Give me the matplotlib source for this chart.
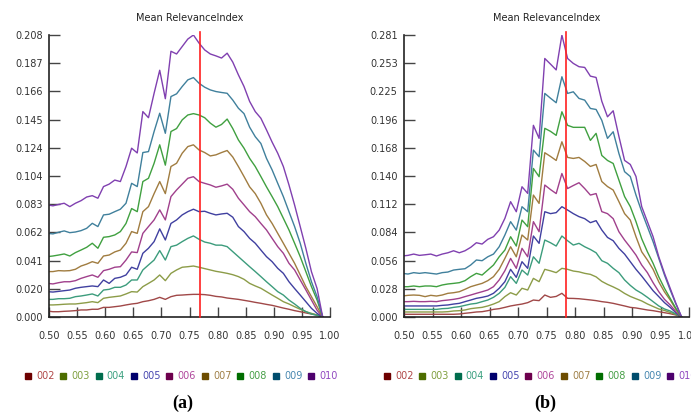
import numpy as np
import matplotlib
matplotlib.use("Agg")
import matplotlib.pyplot as plt
from matplotlib.lines import Line2D

# sample positions (same grid for both panels)
x_vals = np.round(0.497 + 0.01 * np.arange(50), 3)

series_names = ["002", "003", "004", "005", "006", "007", "008", "009", "010"]

# ---- panel (a) ----
a_002 = [0.0044, 0.0039, 0.0039, 0.0042, 0.0044, 0.0047, 0.0052, 0.0052, 0.0057, 0.0057,
         0.0071, 0.0071, 0.0076, 0.0081, 0.0089, 0.0096, 0.0101, 0.0113, 0.0120, 0.0130,
         0.0145, 0.0130, 0.0150, 0.0160, 0.0162, 0.0165, 0.0167, 0.0167, 0.0165, 0.0160,
         0.0152, 0.0148, 0.0140, 0.0135, 0.0130, 0.0123, 0.0116, 0.0108, 0.0101, 0.0093,
         0.0086, 0.0076, 0.0066, 0.0057, 0.0047, 0.0039, 0.0030, 0.0022, 0.0015, 0.0]
a_003 = [0.0089, 0.0089, 0.0091, 0.0094, 0.0096, 0.0096, 0.0101, 0.0106, 0.0113, 0.0106,
         0.0138, 0.0145, 0.0150, 0.0155, 0.0170, 0.0187, 0.0184, 0.0224, 0.0248, 0.0273,
         0.0310, 0.0268, 0.0322, 0.0347, 0.0367, 0.0371, 0.0376, 0.0367, 0.0357, 0.0347,
         0.0337, 0.0330, 0.0322, 0.0312, 0.0298, 0.0278, 0.0248, 0.0229, 0.0212, 0.0187,
         0.0162, 0.0138, 0.0113, 0.0096, 0.0076, 0.0057, 0.0039, 0.0027, 0.0015, 0.0]
a_004 = [0.0130, 0.0130, 0.0135, 0.0135, 0.0138, 0.0150, 0.0155, 0.0162, 0.0170, 0.0155,
         0.0199, 0.0204, 0.0219, 0.0219, 0.0236, 0.0273, 0.0273, 0.0347, 0.0384, 0.0420,
         0.0490, 0.0420, 0.0519, 0.0530, 0.0556, 0.0580, 0.0598, 0.0573, 0.0553, 0.0544,
         0.0530, 0.0530, 0.0519, 0.0482, 0.0445, 0.0408, 0.0371, 0.0335, 0.0298, 0.0260,
         0.0224, 0.0187, 0.0162, 0.0125, 0.0096, 0.0064, 0.0040, 0.0022, 0.0012, 0.0]
a_005 = [0.0187, 0.0184, 0.0189, 0.0194, 0.0199, 0.0212, 0.0219, 0.0224, 0.0229, 0.0224,
         0.0273, 0.0248, 0.0285, 0.0293, 0.0310, 0.0367, 0.0352, 0.0470, 0.0507, 0.0556,
         0.0650, 0.0568, 0.0690, 0.0716, 0.0753, 0.0777, 0.0795, 0.0777, 0.0780, 0.0765,
         0.0753, 0.0760, 0.0765, 0.0736, 0.0667, 0.0630, 0.0580, 0.0544, 0.0494, 0.0445,
         0.0408, 0.0359, 0.0322, 0.0260, 0.0210, 0.0162, 0.0113, 0.0064, 0.0027, 0.0]
a_006 = [0.0248, 0.0244, 0.0253, 0.0260, 0.0260, 0.0268, 0.0285, 0.0298, 0.0310, 0.0293,
         0.0342, 0.0352, 0.0367, 0.0371, 0.0420, 0.0480, 0.0475, 0.0617, 0.0667, 0.0716,
         0.0790, 0.0716, 0.0888, 0.0937, 0.0980, 0.1023, 0.1035, 0.0999, 0.0986, 0.0974,
         0.0957, 0.0967, 0.0980, 0.0942, 0.0876, 0.0827, 0.0777, 0.0740, 0.0690, 0.0642,
         0.0580, 0.0519, 0.0470, 0.0396, 0.0347, 0.0273, 0.0200, 0.0125, 0.0050, 0.0]
a_007 = [0.0335, 0.0335, 0.0342, 0.0340, 0.0342, 0.0352, 0.0376, 0.0390, 0.0408, 0.0396,
         0.0450, 0.0457, 0.0480, 0.0494, 0.0544, 0.0630, 0.0617, 0.0777, 0.0814, 0.0910,
         0.0999, 0.0910, 0.1110, 0.1134, 0.1208, 0.1257, 0.1270, 0.1232, 0.1213, 0.1188,
         0.1196, 0.1213, 0.1228, 0.1180, 0.1110, 0.1036, 0.0960, 0.0910, 0.0839, 0.0753,
         0.0690, 0.0617, 0.0544, 0.0470, 0.0396, 0.0310, 0.0224, 0.0150, 0.0076, 0.0]
a_008 = [0.0445, 0.0450, 0.0457, 0.0465, 0.0450, 0.0475, 0.0494, 0.0514, 0.0544, 0.0507,
         0.0588, 0.0593, 0.0605, 0.0630, 0.0690, 0.0800, 0.0777, 0.0999, 0.1023, 0.1134,
         0.1270, 0.1120, 0.1368, 0.1390, 0.1454, 0.1490, 0.1500, 0.1490, 0.1470, 0.1430,
         0.1400, 0.1420, 0.1460, 0.1390, 0.1306, 0.1245, 0.1170, 0.1110, 0.1036, 0.0960,
         0.0888, 0.0814, 0.0728, 0.0642, 0.0544, 0.0445, 0.0335, 0.0224, 0.0125, 0.0]
a_009 = [0.0617, 0.0613, 0.0625, 0.0635, 0.0622, 0.0627, 0.0637, 0.0654, 0.0691, 0.0667,
         0.0753, 0.0758, 0.0777, 0.0795, 0.0839, 0.0986, 0.0962, 0.1213, 0.1220, 0.1368,
         0.1503, 0.1355, 0.1626, 0.1646, 0.1700, 0.1749, 0.1766, 0.1724, 0.1695, 0.1675,
         0.1663, 0.1656, 0.1650, 0.1600, 0.1540, 0.1500, 0.1400, 0.1330, 0.1280, 0.1170,
         0.1085, 0.0986, 0.0888, 0.0777, 0.0667, 0.0544, 0.0396, 0.0260, 0.0150, 0.0]
a_010 = [0.0827, 0.0820, 0.0830, 0.0839, 0.0814, 0.0839, 0.0858, 0.0885, 0.0895, 0.0876,
         0.0962, 0.0980, 0.1010, 0.0999, 0.1110, 0.1245, 0.1210, 0.1515, 0.1470, 0.1650,
         0.1820, 0.1610, 0.1960, 0.1940, 0.1995, 0.2050, 0.2080, 0.2020, 0.1970, 0.1940,
         0.1926, 0.1910, 0.1946, 0.1880, 0.1786, 0.1700, 0.1590, 0.1515, 0.1466, 0.1380,
         0.1290, 0.1208, 0.1110, 0.0974, 0.0826, 0.0667, 0.0507, 0.0334, 0.0210, 0.0]

# ---- panel (b) ----
b_002 = [0.0027, 0.0027, 0.0027, 0.0027, 0.0027, 0.0027, 0.0027, 0.0027, 0.0027, 0.0027,
         0.0030, 0.0037, 0.0043, 0.0050, 0.0053, 0.0063, 0.0076, 0.0083, 0.0096, 0.0110,
         0.0120, 0.0129, 0.0143, 0.0169, 0.0163, 0.0219, 0.0196, 0.0205, 0.0236, 0.0186,
         0.0185, 0.0182, 0.0176, 0.0170, 0.0163, 0.0153, 0.0146, 0.0136, 0.0123, 0.0110,
         0.0096, 0.0090, 0.0080, 0.0070, 0.0063, 0.0053, 0.0043, 0.0033, 0.0020, 0.0]
b_003 = [0.0050, 0.0050, 0.0050, 0.0050, 0.0050, 0.0050, 0.0050, 0.0050, 0.0053, 0.0060,
         0.0063, 0.0070, 0.0083, 0.0090, 0.0096, 0.0110, 0.0129, 0.0153, 0.0203, 0.0242,
         0.0219, 0.0286, 0.0269, 0.0385, 0.0352, 0.0475, 0.0460, 0.0442, 0.0485, 0.0475,
         0.0458, 0.0450, 0.0435, 0.0425, 0.0400, 0.0355, 0.0325, 0.0300, 0.0272, 0.0235,
         0.0205, 0.0182, 0.0160, 0.0130, 0.0105, 0.0080, 0.0065, 0.0045, 0.0025, 0.0]
b_004 = [0.0076, 0.0076, 0.0076, 0.0076, 0.0076, 0.0076, 0.0076, 0.0083, 0.0086, 0.0096,
         0.0103, 0.0116, 0.0129, 0.0136, 0.0153, 0.0169, 0.0196, 0.0236, 0.0295, 0.0402,
         0.0335, 0.0468, 0.0418, 0.0600, 0.0535, 0.0767, 0.0740, 0.0707, 0.0807, 0.0760,
         0.0717, 0.0734, 0.0700, 0.0673, 0.0640, 0.0561, 0.0535, 0.0485, 0.0442, 0.0369,
         0.0315, 0.0269, 0.0236, 0.0196, 0.0153, 0.0110, 0.0080, 0.0060, 0.0030, 0.0]
b_005 = [0.0110, 0.0110, 0.0110, 0.0110, 0.0110, 0.0110, 0.0110, 0.0116, 0.0120, 0.0129,
         0.0136, 0.0153, 0.0169, 0.0186, 0.0196, 0.0209, 0.0236, 0.0286, 0.0352, 0.0475,
         0.0395, 0.0551, 0.0485, 0.0807, 0.0734, 0.1049, 0.1030, 0.1040, 0.1099, 0.1066,
         0.1030, 0.1000, 0.0980, 0.0940, 0.0960, 0.0867, 0.0793, 0.0760, 0.0684, 0.0627,
         0.0551, 0.0475, 0.0408, 0.0335, 0.0262, 0.0203, 0.0143, 0.0096, 0.0043, 0.0]
b_006 = [0.0153, 0.0153, 0.0156, 0.0153, 0.0153, 0.0156, 0.0153, 0.0163, 0.0169, 0.0176,
         0.0186, 0.0203, 0.0219, 0.0236, 0.0252, 0.0269, 0.0302, 0.0369, 0.0461, 0.0584,
         0.0485, 0.0684, 0.0600, 0.0950, 0.0850, 0.1315, 0.1270, 0.1230, 0.1430, 0.1280,
         0.1310, 0.1338, 0.1280, 0.1215, 0.1230, 0.1050, 0.1030, 0.0980, 0.0850, 0.0767,
         0.0694, 0.0617, 0.0518, 0.0442, 0.0342, 0.0252, 0.0176, 0.0120, 0.0053, 0.0]
b_007 = [0.0209, 0.0216, 0.0219, 0.0216, 0.0203, 0.0216, 0.0209, 0.0219, 0.0236, 0.0242,
         0.0252, 0.0276, 0.0302, 0.0319, 0.0335, 0.0362, 0.0402, 0.0475, 0.0584, 0.0700,
         0.0600, 0.0817, 0.0767, 0.1215, 0.1132, 0.1637, 0.1600, 0.1560, 0.1746, 0.1590,
         0.1580, 0.1590, 0.1550, 0.1500, 0.1520, 0.1350, 0.1300, 0.1265, 0.1150, 0.1030,
         0.0966, 0.0800, 0.0650, 0.0568, 0.0475, 0.0350, 0.0250, 0.0170, 0.0076, 0.0]
b_008 = [0.0302, 0.0302, 0.0309, 0.0302, 0.0309, 0.0309, 0.0302, 0.0319, 0.0329, 0.0335,
         0.0342, 0.0362, 0.0402, 0.0435, 0.0418, 0.0468, 0.0518, 0.0600, 0.0667, 0.0800,
         0.0707, 0.0966, 0.0900, 0.1480, 0.1398, 0.1880, 0.1850, 0.1810, 0.2045, 0.1910,
         0.1890, 0.1890, 0.1890, 0.1760, 0.1830, 0.1610, 0.1560, 0.1530, 0.1365, 0.1200,
         0.1100, 0.0950, 0.0780, 0.0650, 0.0535, 0.0400, 0.0286, 0.0186, 0.0086, 0.0]
b_009 = [0.0435, 0.0428, 0.0442, 0.0435, 0.0442, 0.0435, 0.0428, 0.0442, 0.0448, 0.0468,
         0.0475, 0.0481, 0.0518, 0.0568, 0.0561, 0.0600, 0.0627, 0.0700, 0.0817, 0.0950,
         0.0866, 0.1099, 0.1049, 0.1663, 0.1597, 0.2228, 0.2180, 0.2135, 0.2394, 0.2228,
         0.2244, 0.2178, 0.2161, 0.2078, 0.2068, 0.1960, 0.1780, 0.1846, 0.1630, 0.1448,
         0.1400, 0.1215, 0.1050, 0.0900, 0.0750, 0.0584, 0.0418, 0.0269, 0.0130, 0.0]
b_010 = [0.0608, 0.0614, 0.0627, 0.0614, 0.0620, 0.0627, 0.0608, 0.0627, 0.0640, 0.0660,
         0.0640, 0.0660, 0.0694, 0.0740, 0.0727, 0.0774, 0.0800, 0.0866, 0.0983, 0.1149,
         0.1049, 0.1298, 0.1232, 0.1910, 0.1780, 0.2576, 0.2520, 0.2462, 0.2809, 0.2576,
         0.2527, 0.2494, 0.2487, 0.2400, 0.2387, 0.2150, 0.1995, 0.2055, 0.1800, 0.1560,
         0.1520, 0.1400, 0.1100, 0.0950, 0.0800, 0.0600, 0.0435, 0.0286, 0.0136, 0.0]

a_series = [a_002, a_003, a_004, a_005, a_006, a_007, a_008, a_009, a_010]
b_series = [b_002, b_003, b_004, b_005, b_006, b_007, b_008, b_009, b_010]

# axis ranges / ticks
a_ymax = 0.208
b_ymax = 0.281
a_ytick_labels = ["0.000", "0.020", "0.041", "0.062", "0.083", "0.104",
                  "0.124", "0.145", "0.166", "0.187", "0.208"]
b_ytick_labels = ["0.000", "0.028", "0.056", "0.084", "0.112", "0.140",
                  "0.168", "0.196", "0.225", "0.253", "0.281"]
xtick_vals = [0.50, 0.55, 0.60, 0.65, 0.70, 0.75, 0.80, 0.85, 0.90, 0.95, 1.00]
a_marker_x = 0.769
b_marker_x = 0.784

line_colors = ["#a04848", "#8c9c48", "#3c9c7c", "#4040a0", "#a0408c",
               "#a07c40", "#40a040", "#40809c", "#8040b0"]
key_colors = ["#6d0000", "#4d6d00", "#006d4d", "#00006d", "#6d004d",
              "#6d4d00", "#006d00", "#004d6d", "#4d006d"]
label_colors = ["#b04848", "#80a040", "#3ca080", "#4848b0", "#b0489c",
                "#a08048", "#48a048", "#4888b0", "#9048c0"]

W, H = 691, 419
fig = plt.figure(figsize=(W / 100, H / 100), dpi=100)


def make_panel(rect, series, ymax, ylabels, marker_x, legend_cx, letter, letter_x):
    ax = fig.add_axes(rect)
    for vals, c in zip(series, line_colors):
        ax.plot(x_vals, vals, color=c, lw=1.0)
    ax.plot([marker_x, marker_x], [0, ymax * 1.012], color="#ff2020", lw=1.2,
            clip_on=False, zorder=5)
    ax.set_xlim(0.50, 1.00)
    ax.set_ylim(0, ymax)
    ax.set_xticks(xtick_vals)
    ax.set_xticklabels([f"{v:.2f}" for v in xtick_vals])
    ax.set_yticks(np.linspace(0, ymax, 11))
    ax.set_yticklabels(ylabels)
    for s in ["top", "right"]:
        ax.spines[s].set_visible(False)
    for s in ["left", "bottom"]:
        ax.spines[s].set_color("#222222")
        ax.spines[s].set_linewidth(1.2)
    ax.tick_params(axis="y", direction="in", length=8, width=1.0, color="#444444",
                   labelsize=7, labelcolor="#333333", pad=4.5)
    ax.tick_params(axis="x", direction="in", length=7, width=1.0, color="#444444",
                   labelsize=7, labelcolor="#333333", pad=10)
    ax.set_title("Mean RelevanceIndex", fontsize=7, color="#222222", pad=10)

    handles = [Line2D([], [], ls="none", marker="s", markersize=5,
                      markerfacecolor=k, markeredgecolor=k) for k in key_colors]
    leg = ax.legend(handles, series_names, ncol=9, loc="center",
                    bbox_to_anchor=(legend_cx, 1 - 376 / H),
                    bbox_transform=fig.transFigure, frameon=False, fontsize=7,
                    handlelength=0.7, handletextpad=0.5, columnspacing=0.55,
                    borderpad=0, borderaxespad=0)
    for t, c in zip(leg.get_texts(), label_colors):
        t.set_color(c)
    fig.text(letter_x, 1 - 403 / H, letter, ha="center", va="center",
             fontsize=13, fontweight="bold", family="Liberation Serif")
    return ax


make_panel([49 / W, 1 - 317 / H, 281 / W, 282 / H], a_series, a_ymax,
           a_ytick_labels, a_marker_x, 181 / W, "(a)", 183 / W)
make_panel([404 / W, 1 - 317 / H, 285 / W, 282 / H], b_series, b_ymax,
           b_ytick_labels, b_marker_x, 540 / W, "(b)", 545 / W)

fig.savefig("out.png", dpi=100)
